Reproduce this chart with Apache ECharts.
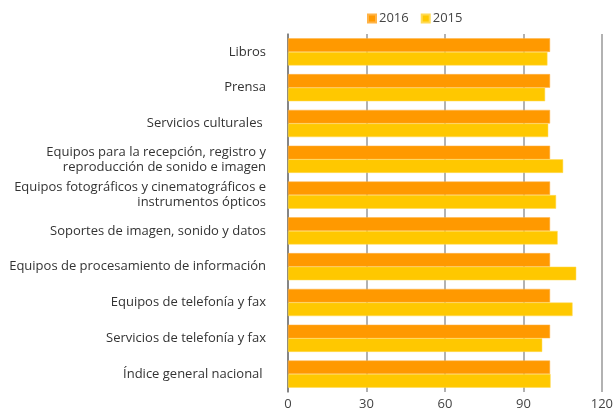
<!DOCTYPE html>
<html>
<head>
<meta charset="utf-8">
<script src="https://cdn.jsdelivr.net/npm/echarts@6/dist/echarts.min.js"></script>
<style>
  html, body { margin: 0; padding: 0; background: #fff; }
  #chart { width: 616px; height: 412px; }
</style>
</head>
<body>
<div id="chart"></div>
<script>
// categorias de arriba a abajo
const categories = [
  'Libros',
  'Prensa',
  'Servicios culturales ',
  'Equipos para la recepción, registro y\nreproducción de sonido e imagen',
  'Equipos fotográficos y cinematográficos e\ninstrumentos ópticos',
  'Soportes de imagen, sonido y datos',
  'Equipos de procesamiento de información',
  'Equipos de telefonía y fax',
  'Servicios de telefonía y fax',
  'Índice general nacional '
];
const values2016 = [100.2, 100.2, 100.2, 100.2, 100.2, 100.2, 100.2, 100.2, 100.2, 100.2];
const values2015 = [99.2, 98.3, 99.5, 105.2, 102.5, 103.1, 110.2, 108.8, 97.2, 100.4];
const xTicks = { min: 0, max: 120, interval: 30 };

const chart = echarts.init(document.getElementById('chart'));
chart.setOption({
  animation: false,
  textStyle: { fontFamily: '"Open Sans", sans-serif' },
  legend: {
    data: ['2016', '2015'],
    top: 7,
    left: 362,
    itemWidth: 8,
    itemHeight: 8,
    itemGap: 12,
    icon: 'rect',
    textStyle: { color: '#444', fontSize: 13, padding: [0, 0, 0, -2] }
  },
  grid: { left: 288, right: 10, top: 34, bottom: 20, containLabel: false },
  xAxis: {
    type: 'value',
    min: xTicks.min,
    max: xTicks.max,
    interval: xTicks.interval,
    axisLine: { show: false },
    axisTick: { show: false },
    axisLabel: { color: '#444', fontSize: 13, margin: 6 },
    splitLine: { lineStyle: { color: '#999', width: 1.5 } }
  },
  yAxis: {
    type: 'category',
    inverse: true,
    data: categories,
    axisLine: { show: true, lineStyle: { color: '#777', width: 1.5 } },
    axisTick: { show: false },
    axisLabel: { color: '#333', fontSize: 13, margin: 22, lineHeight: 15, align: 'right' }
  },
  series: [
    {
      name: '2016',
      type: 'bar',
      data: values2016,
      barGap: '0%',
      barCategoryGap: '24%',
      itemStyle: { color: '#FF9900', borderColor: '#FFB347', borderWidth: 0.5 }
    },
    {
      name: '2015',
      type: 'bar',
      data: values2015,
      barGap: '0%',
      barCategoryGap: '24%',
      itemStyle: { color: '#FFC800', borderColor: '#FFDA55', borderWidth: 0.5 }
    }
  ]
});
</script>
</body>
</html>
